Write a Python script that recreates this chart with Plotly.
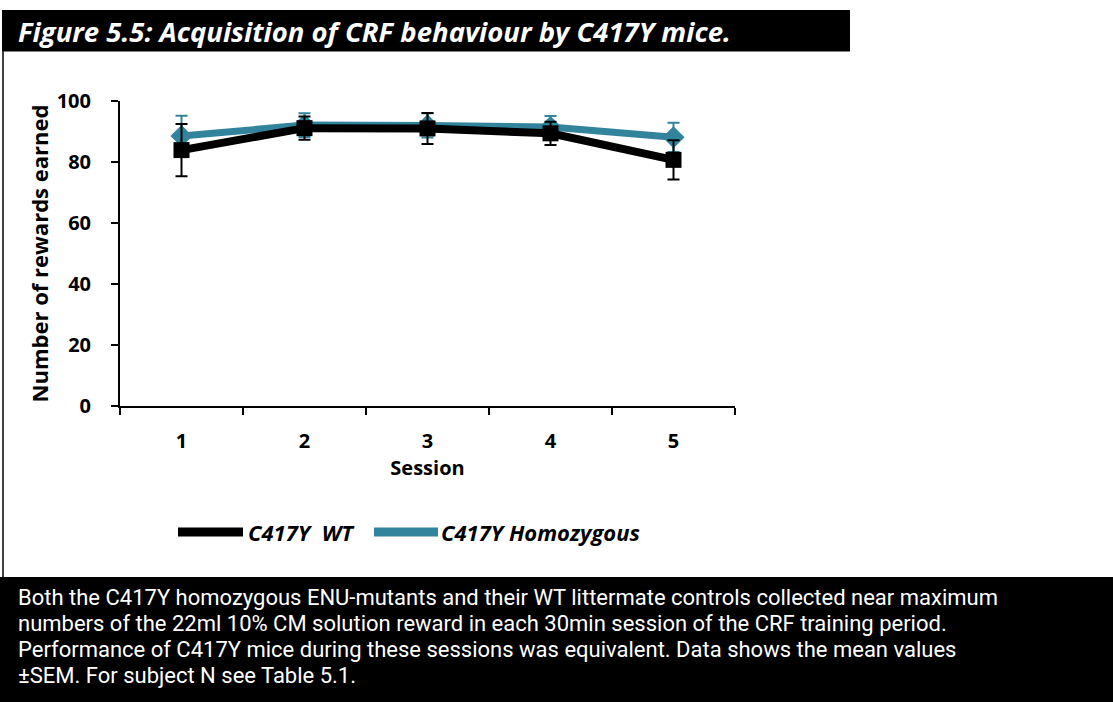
import plotly.graph_objects as go

sessions = ["1", "2", "3", "4", "5"]
wt_mean = [83.9, 91.1, 91.0, 89.4, 80.7]
wt_sem = [8.6, 3.8, 5.1, 3.8, 6.4]
hom_mean = [88.5, 92.1, 92.0, 91.5, 88.1]
hom_sem = [6.7, 3.9, 4.0, 3.6, 4.8]
y_ticks = [0, 20, 40, 60, 80, 100]

TEAL = "#31849B"
W, H = 1113, 702
L, R, T, B = 120, 735, 101, 406

def px(x):
    return (x - L) / (R - L)

def py(y):
    return (B - y) / (B - T)

fig = go.Figure()
fig.add_trace(go.Scatter(
    x=sessions, y=hom_mean, mode="lines+markers", name="C417Y Homozygous",
    line=dict(color=TEAL, width=7),
    marker=dict(symbol="diamond", size=17, color=TEAL),
    error_y=dict(type="data", array=hom_sem, color=TEAL, thickness=2, width=6),
    showlegend=False))
fig.add_trace(go.Scatter(
    x=sessions, y=wt_mean, mode="lines+markers", name="C417Y  WT",
    line=dict(color="black", width=8),
    marker=dict(symbol="square", size=16, color="black"),
    error_y=dict(type="data", array=wt_sem, color="black", thickness=2, width=6),
    showlegend=False))

font_b = "Open Sans"
font_cap = "Roboto"
shapes = [
    dict(type="rect", xref="paper", yref="paper", x0=px(2), x1=px(850), y0=py(51), y1=py(10),
         fillcolor="black", line=dict(width=0), layer="below"),
    dict(type="line", xref="paper", yref="paper", x0=px(3), x1=px(3), y0=py(51), y1=py(577),
         line=dict(color="black", width=1.5)),
    dict(type="line", xref="paper", yref="paper", x0=px(3), x1=px(850), y0=py(51), y1=py(51),
         line=dict(color="black", width=1)),
    dict(type="rect", xref="paper", yref="paper", x0=px(0), x1=px(1113), y0=py(702), y1=py(577),
         fillcolor="black", line=dict(width=0), layer="below"),
    dict(type="line", xref="paper", yref="paper", x0=px(178), x1=px(243), y0=py(532), y1=py(532),
         line=dict(color="black", width=9)),
    dict(type="line", xref="paper", yref="paper", x0=px(374), x1=px(438), y0=py(532), y1=py(532),
         line=dict(color=TEAL, width=9)),
]

annotations = [
    dict(text="<b><i>Figure 5.5: Acquisition of CRF behaviour by C417Y mice.</i></b>",
         xref="paper", yref="paper", x=px(16), y=py(32), xanchor="left", yanchor="middle",
         showarrow=False, font=dict(family=font_b, size=27.5, color="white")),
    dict(text="<b><i>C417Y  WT</i></b>", xref="paper", yref="paper", x=px(246), y=py(532),
         xanchor="left", yanchor="middle", showarrow=False,
         font=dict(family=font_b, size=22, color="black")),
    dict(text="<b><i>C417Y Homozygous</i></b>", xref="paper", yref="paper", x=px(439), y=py(532),
         xanchor="left", yanchor="middle", showarrow=False,
         font=dict(family=font_b, size=22, color="black")),
]

caption = [
    "Both the C417Y homozygous ENU-mutants and their WT littermate controls collected near maximum",
    "numbers of the 22ml 10% CM solution reward in each 30min session of the CRF training period.",
    "Performance of C417Y mice during these sessions was equivalent. Data shows the mean values",
    "\u00b1SEM. For subject N see Table 5.1.",
]
for i, line in enumerate(caption):
    annotations.append(dict(text=line, xref="paper", yref="paper", x=px(17), y=py(597 + 26 * i),
                            xanchor="left", yanchor="middle", showarrow=False, borderpad=0,
                            font=dict(family=font_cap, size=22, color="white")))

fig.update_layout(
    width=W, height=H,
    margin=dict(l=L, r=W - R, t=T, b=H - B, pad=0),
    paper_bgcolor="white", plot_bgcolor="white",
    shapes=shapes, annotations=annotations,
    font=dict(family=font_b, color="black"),
    xaxis=dict(type="category", range=[-0.5, 4.5], showgrid=False, zeroline=False,
               showline=True, linecolor="black", linewidth=2,
               ticks="outside", ticklen=7, tickwidth=1.5, tickcolor="black",
               tickson="boundaries", ticklabelstandoff=16,
               tickvals=sessions, ticktext=[f"<b>{s}</b>" for s in sessions],
               tickfont=dict(family=font_b, size=20, color="black"),
               title=dict(text="<b>Session</b>", font=dict(family=font_b, size=20), standoff=0)),
    yaxis=dict(range=[0, 100], tickvals=y_ticks, ticktext=[f"<b>{v}</b>" for v in y_ticks],
               showgrid=False, zeroline=False, showline=True, linecolor="black", linewidth=2,
               ticks="outside", ticklen=7, tickwidth=1.5, tickcolor="black",
               ticklabelstandoff=16,
               tickfont=dict(family=font_b, size=20, color="black"),
               title=dict(text="<b>Number of rewards earned</b>", font=dict(family=font_b, size=22),
                          standoff=2)),
)

fig.write_html("out.html", config={"displayModeBar": False},
               post_script="document.body.style.margin='0';")
